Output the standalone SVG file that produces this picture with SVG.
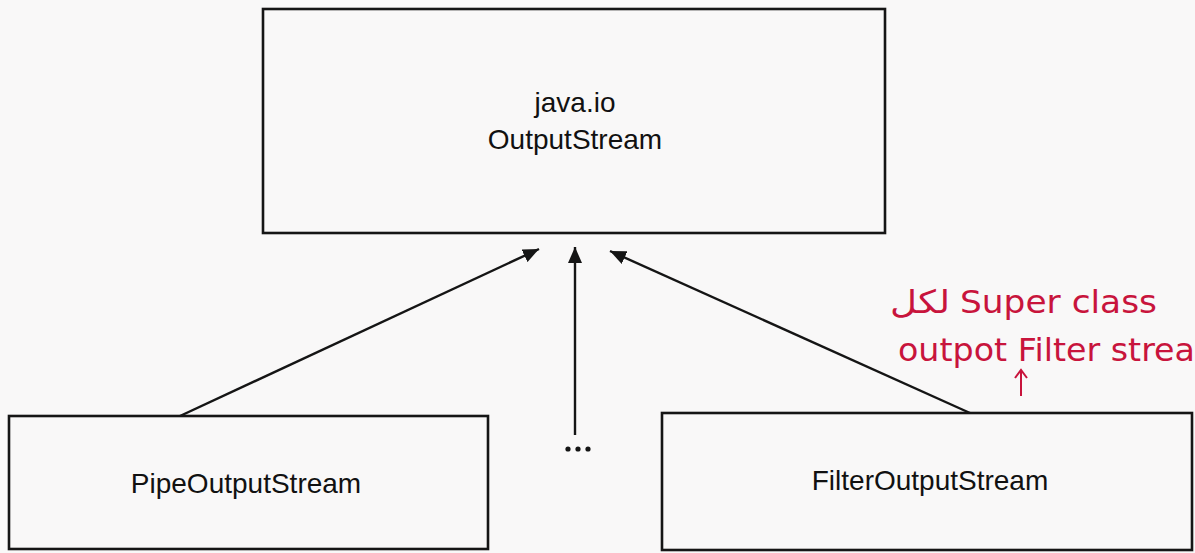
<svg xmlns="http://www.w3.org/2000/svg" width="1195" height="553" viewBox="0 0 1195 553">
  <style>
    .box { fill: none; stroke: #151515; stroke-width: 2.6; }
    .lbl { font-family: "Liberation Sans", Arial, sans-serif; font-size: 28px; fill: #111; text-anchor: middle; }
    .conn { stroke: #151515; stroke-width: 2.4; fill: none; }
    .hand { font-family: "DejaVu Sans", "Liberation Sans", sans-serif; font-size: 32px; fill: #c8143c; }
  </style>
  <defs>
    <marker id="arrow" viewBox="0 0 16 14" refX="16" refY="7" markerWidth="16" markerHeight="14" markerUnits="userSpaceOnUse" orient="auto">
      <path d="M0,0 L16,7 L0,14 z" fill="#151515"/>
    </marker>
  </defs>
  <rect x="0" y="0" width="1195" height="553" fill="#f9f8f8"/>

  <g id="outputstream">
    <rect class="box" x="263" y="9" width="622" height="224"/>
    <text class="lbl" x="575" y="112">java.io</text>
    <text class="lbl" x="575" y="149">OutputStream</text>
  </g>

  <g id="pipeoutputstream">
    <rect class="box" x="9" y="416" width="479" height="133"/>
    <text class="lbl" x="246" y="493">PipeOutputStream</text>
  </g>

  <g id="filteroutputstream">
    <rect class="box" x="662" y="413" width="530" height="137"/>
    <text class="lbl" x="930" y="490">FilterOutputStream</text>
  </g>

  <g id="connectors">
    <line class="conn" x1="180" y1="416" x2="539" y2="249" marker-end="url(#arrow)"/>
    <line class="conn" x1="575" y1="435" x2="575" y2="247" marker-end="url(#arrow)"/>
    <line class="conn" x1="970" y1="413" x2="610" y2="251" marker-end="url(#arrow)"/>
  </g>

  <g id="ellipsis" fill="#151515">
    <circle cx="568" cy="449" r="2.6"/>
    <circle cx="578" cy="449" r="2.6"/>
    <circle cx="588" cy="449" r="2.6"/>
  </g>

  <g id="annotation">
    <text class="hand" x="890" y="313" textLength="60" lengthAdjust="spacingAndGlyphs">لكل</text>
    <text class="hand" x="960" y="313" textLength="197" lengthAdjust="spacingAndGlyphs">Super class</text>
    <text class="hand" x="898" y="361" textLength="297" lengthAdjust="spacingAndGlyphs">outpot Filter strea</text>
    <path d="M1021,396 L1021,371 M1015,378 L1021,370 L1027,378" fill="none" stroke="#c8143c" stroke-width="2"/>
  </g>
</svg>
